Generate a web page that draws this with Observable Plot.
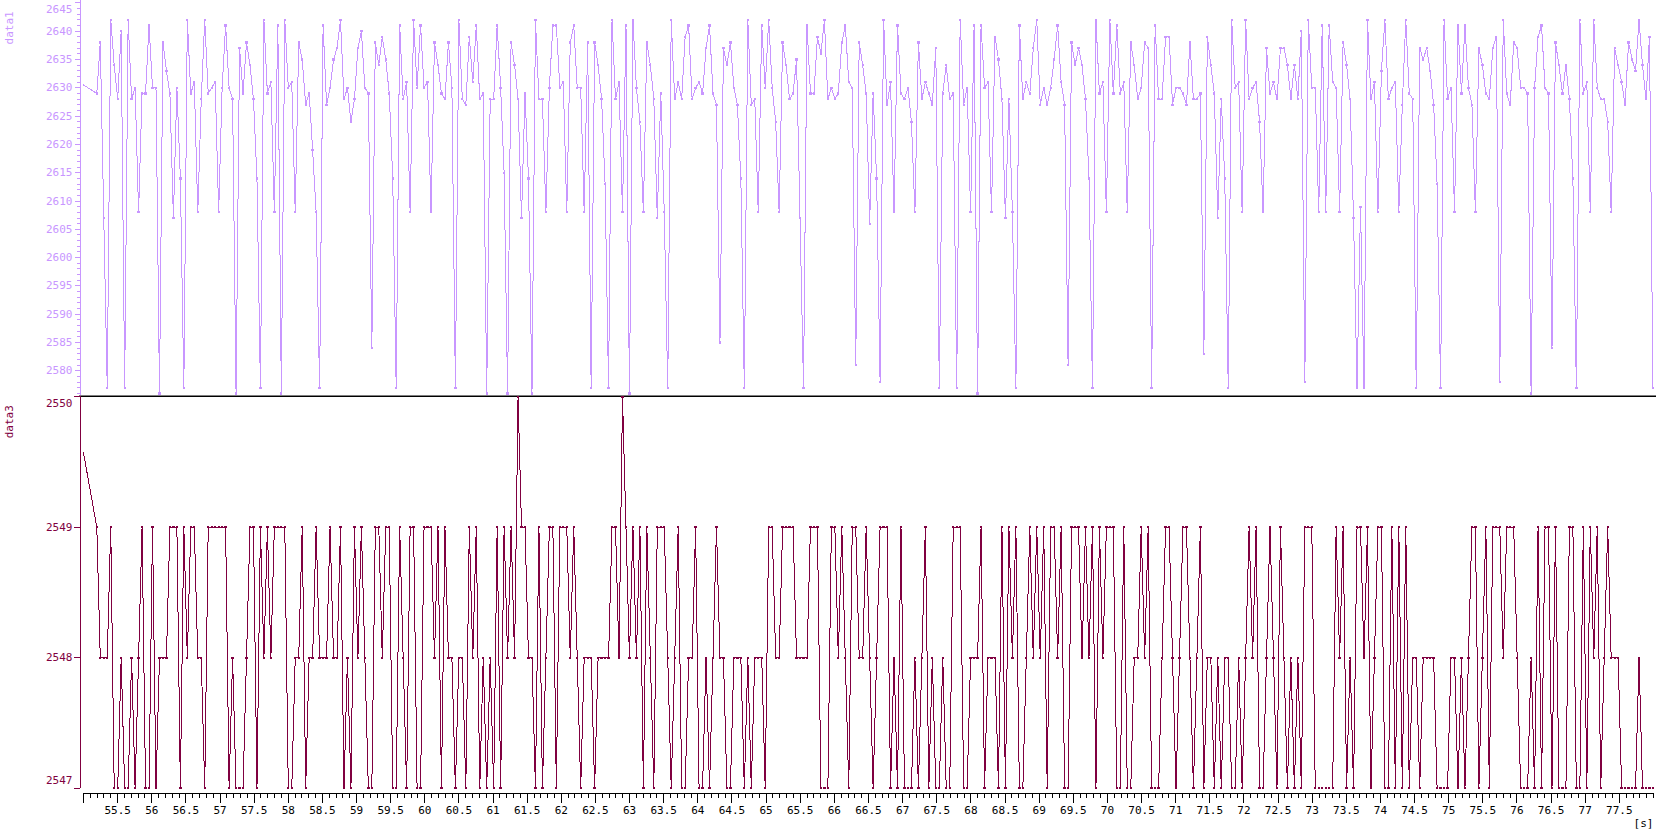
<!DOCTYPE html>
<html>
<head>
<meta charset="utf-8">
<script src="https://cdn.jsdelivr.net/npm/d3@7"></script>
<script src="https://cdn.jsdelivr.net/npm/@observablehq/plot@0.6"></script>
<style>
html, body { margin: 0; padding: 0; background: #ffffff; }
#chart { width: 1656px; height: 836px; position: relative; overflow: hidden; background: #ffffff; }
#chart svg { display: block; }
</style>
</head>
<body>
<div id="chart"></div>
<script>
// ---- data ----
const data1 = [
  2630.5,
  2629,2638,2607,2577,2642,2634,2628,2640,2577,2642,
  2628,2630,2608,2629,2629,2641,2630,2630,2576,2638,
  2633,2629,2607,2630,2614,2577,2642,2629,2631,2608,
  2628,2642,2629,2630,2631,2608,2630,2641,2630,2628,
  2576,2637,2629,2638,2634,2628,2614,2577,2642,2629,
  2631,2608,2641,2576,2642,2630,2631,2608,2638,2635,
  2627,2629,2619,2608,2577,2641,2627,2630,2635,2637,
  2642,2628,2630,2624,2628,2637,2640,2630,2629,2584,
  2638,2634,2639,2635,2629,2614,2577,2641,2628,2631,
  2608,2642,2630,2641,2630,2631,2608,2638,2634,2629,
  2628,2638,2630,2577,2642,2628,2627,2639,2631,2641,
  2628,2629,2576,2628,2628,2641,2630,2615,2576,2638,
  2634,2628,2607,2629,2614,2576,2642,2628,2628,2608,
  2630,2641,2641,2630,2631,2608,2638,2641,2630,2630,
  2608,2638,2577,2638,2634,2628,2613,2577,2642,2628,
  2631,2608,2641,2576,2642,2630,2624,2608,2638,2634,
  2628,2607,2629,2608,2577,2642,2628,2631,2628,2639,
  2641,2628,2630,2631,2629,2637,2641,2629,2627,2585,
  2637,2634,2638,2630,2627,2614,2577,2642,2627,2628,
  2608,2641,2630,2642,2630,2624,2608,2638,2634,2628,
  2629,2635,2607,2577,2641,2629,2629,2639,2636,2642,
  2628,2630,2628,2629,2638,2641,2631,2630,2581,2638,
  2634,2629,2606,2629,2614,
  2578,2642,2627,2631,2608,2641,2629,2628,2630,2624,
  2608,2638,2628,2631,2629,2627,2637,2577,2629,2634,
  2628,2629,2577,2642,2627,2630,2608,2641,2576,2641,
  2630,2631,2608,2639,2635,2628,2607,2628,2608,2577,
  2641,2628,2631,2629,2637,2642,2627,2630,2627,2630,
  2635,2641,2631,2627,2581,2638,2634,2637,2634,2628,
  2614,2577,2642,2629,2631,2608,2642,2629,2641,2629,
  2631,2608,2638,2634,2628,2630,2638,2637,2577,2641,
  2628,2628,2639,2639,2627,2630,2630,2629,2627,2638,
  2628,2628,2629,2583,2639,2634,2629,2607,2628,2614,
  2577,2642,2630,2631,2608,2642,2628,2630,2631,2624,
  2608,2637,2629,2631,
  2628,2637,2637,2634,2628,2634,2628,2640,2578,2642,
  2630,2630,2608,2641,2608,2641,2631,2630,2608,2638,
  2634,2628,2607,2577,2609,2577,2642,2628,2631,2608,
  2633,2642,2628,2630,2631,2608,2627,2642,2629,2628,
  2577,2637,2635,2637,2633,2627,2613,2577,2642,2628,
  2630,2608,2641,2629,2641,2630,2627,2608,2637,2634,
  2629,2628,2637,2639,2578,2642,2629,2627,2638,2637,
  2630,2630,2629,2576,2630,2639,2641,2630,2629,2584,
  2638,2634,2629,2634,2628,2614,2577,2642,2629,2631,
  2608,2642,2630,2628,2628,2624,2608,2637,2634,2631,
  2627,2638,2635,2633,2642,2634,2628,2639,2577
];
const data3 = [
  2549.57,
  2549,2548,2548,2548,2549,2547,2547,2548,2547,2547,
  2548,2547,2548,2549,2547,2547,2549,2547,2548,2548,
  2548,2549,2549,2549,2547,2549,2548,2549,2549,2548,
  2548,2547,2549,2549,2549,2549,2549,2549,2547,2548,
  2547,2547,2547,2548,2549,2549,2547,2549,2548,2549,
  2548,2549,2549,2549,2549,2547,2547,2548,2548,2549,
  2547,2548,2548,2549,2548,2548,2548,2549,2548,2548,
  2549,2547,2548,2547,2549,2548,2549,2548,2547,2547,
  2549,2549,2548,2549,2549,2547,2547,2549,2548,2547,
  2549,2549,2547,2547,2549,2549,2549,2548,2549,2547,
  2549,2548,2548,2547,2548,2548,2547,2549,2548,2549,
  2547,2548,2547,2548,2547,2549,2547,2549,2548,2549,
  2548,2550,2549,2549,2548,2548,2547,2549,2547,2548,
  2549,2549,2547,2549,2549,2549,2548,2549,2548,2547,
  2548,2548,2548,2547,2548,2548,2548,2548,2549,2549,
  2548,2550,2549,2548,2549,2548,2549,2547,2549,2548,
  2547,2549,2549,2549,2548,2547,2548,2549,2547,2547,
  2548,2548,2549,2547,2547,2548,2547,2548,2549,2548,
  2548,2547,2547,2548,2548,2548,2547,2548,2547,2548,
  2548,2548,2547,2549,2549,2548,2548,2549,2549,2549,
  2549,2548,2548,2548,2548,2549,2549,2549,2547,2547,
  2547,2549,2549,2548,2549,2548,2547,2549,2549,2548,
  2548,2549,2548,2547,2548,
  2549,2549,2549,2547,2548,2547,2549,2547,2547,2547,
  2548,2547,2548,2549,2547,2548,2547,2547,2548,2547,
  2547,2549,2549,2549,2547,2547,2548,2548,2548,2549,
  2547,2548,2548,2548,2547,2549,2547,2549,2548,2549,
  2547,2547,2548,2549,2548,2549,2548,2549,2547,2549,
  2549,2548,2549,2547,2547,2549,2549,2549,2548,2549,
  2548,2549,2547,2549,2548,2549,2549,2549,2547,2547,
  2549,2547,2547,2548,2548,2549,2548,2549,2547,2547,
  2547,2548,2549,2549,2548,2547,2548,2549,2549,2548,
  2547,2548,2549,2547,2548,2548,2547,2548,2547,2548,
  2548,2547,2547,2548,2547,2548,2549,2548,2549,2547,
  2547,2548,2549,2548,
  2547,2549,2548,2547,2548,2547,2548,2547,2549,2549,
  2549,2547,2547,2547,2547,2547,2547,2549,2548,2549,
  2547,2548,2547,2549,2549,2548,2549,2547,2548,2549,
  2549,2547,2547,2549,2547,2549,2547,2549,2547,2548,
  2548,2547,2548,2548,2548,2548,2547,2547,2547,2547,
  2548,2548,2547,2548,2547,2548,2549,2549,2547,2548,
  2549,2547,2549,2549,2549,2548,2549,2549,2549,2548,
  2547,2547,2547,2548,2547,2549,2547,2549,2549,2547,
  2549,2547,2547,2547,2549,2549,2547,2547,2549,2547,
  2549,2548,2549,2547,2548,2549,2548,2548,2548,2547,
  2547,2547,2547,2547,2548,2547,2547,2547,2547
];
// sampling: first sample at 55.0 s, then a regular ~0.051 s step from 55.195 s
const firstTime = 55.0;
const sampleStart = 55.195;
const sampleStep = 0.051;

const xDomain = [55, 78];
const xTickLabels = ["55.5","56","56.5","57","57.5","58","58.5","59","59.5","60",
  "60.5","61","61.5","62","62.5","63","63.5","64","64.5","65","65.5","66","66.5",
  "67","67.5","68","68.5","69","69.5","70","70.5","71","71.5","72","72.5","73",
  "73.5","74","74.5","75","75.5","76","76.5","77","77.5"];
const yTopDomain = [2575.65, 2645];
const yTopLabels = [2580,2585,2590,2595,2600,2605,2610,2615,2620,2625,2630,2635,2640,2645];
const yBottomDomain = [2547, 2550];
const yBottomLabels = [2547, 2548, 2549, 2550];
const seriesNames = ["data1", "data3"];

// ---- styling ----
const colTop = "#c896ff";
const colBot = "#800040";
const fontFamily = "'DejaVu Sans Mono', 'Liberation Mono', monospace";
const W = 1656;
const frameLeft = 80, xLeft = 83, xRight = 1653;
const pxPerSec = (xRight - xLeft) / (xDomain[1] - xDomain[0]);
const xAt = px => xDomain[0] + (px - xLeft) / pxPerSec;

const timeOf = i => i === 0 ? firstTime : sampleStart + (i - 1) * sampleStep;
const rows1 = data1.map((v, i) => ({t: timeOf(i), v}));
const rows3 = data3.map((v, i) => ({t: timeOf(i), v}));

const xMajor = [55, ...xTickLabels.map(Number)];
const xMinor = d3.range(550, 781).map(d => d / 10);
const yTopMinor = d3.range(2576, 2646);

// ---- top panel ----
const topH = 395;
const topPlot = Plot.plot({
  width: W, height: topH,
  marginLeft: frameLeft, marginRight: W - xRight, marginTop: 0, marginBottom: 0,
  x: {domain: xDomain, range: [xLeft, xRight], axis: null},
  y: {domain: yTopDomain, range: [topH, 2.35], axis: null},
  style: {background: "transparent", fontFamily, fontSize: "11px", overflow: "visible"},
  marks: [
    Plot.ruleX([xAt(frameLeft)], {x: d => d, stroke: colTop, strokeWidth: 1, shapeRendering: "crispEdges"}),
    Plot.ruleY(yTopMinor, {y: d => d, x1: xAt(frameLeft - 3), x2: xAt(frameLeft), stroke: colTop, shapeRendering: "crispEdges"}),
    Plot.ruleY(yTopLabels, {y: d => d, x1: xAt(frameLeft - 5), x2: xAt(frameLeft), stroke: colTop, shapeRendering: "crispEdges"}),
    Plot.text(yTopLabels.filter(d => d !== 2645), {y: d => d, text: d => String(d), frameAnchor: "left", dx: -8, textAnchor: "end", fill: colTop}),
    Plot.text(yTopLabels.filter(d => d === 2645), {y: d => d, text: d => String(d), frameAnchor: "left", dx: -8, dy: 7, textAnchor: "end", fill: colTop}),
    Plot.text([seriesNames[0]], {x: xDomain[0], y: yTopDomain[1], text: d => d, dx: -74, dy: 25, rotate: -90, fill: colTop}),
    Plot.line(rows1, {x: "t", y: "v", stroke: colTop, strokeWidth: 1, clip: true, shapeRendering: "crispEdges"}),
    Plot.dot(rows1.slice(1), {x: "t", y: "v", symbol: "square", r: 1.3, fill: colTop, stroke: null, shapeRendering: "crispEdges"})
  ]
});

// ---- bottom panel ----
const botH = 441;
const yTopPx = 1.2, yBotPx = 392.7;
const pxPerUnit = (yBotPx - yTopPx) / (yBottomDomain[1] - yBottomDomain[0]);
const yBelow = px => yBottomDomain[0] - px / pxPerUnit;
const botPlot = Plot.plot({
  width: W, height: botH,
  marginLeft: frameLeft, marginRight: W - xRight, marginTop: 0, marginBottom: botH - yBotPx,
  x: {domain: xDomain, range: [xLeft, xRight], axis: null},
  y: {domain: yBottomDomain, range: [yBotPx, yTopPx], axis: null},
  style: {background: "transparent", fontFamily, fontSize: "11px", overflow: "visible"},
  marks: [
    Plot.ruleY([yBottomDomain[1]], {y: d => d, x1: xAt(79), x2: xAt(W), dy: -0.4, stroke: "#000000", strokeWidth: 1.6}),
    Plot.ruleX([xAt(frameLeft)], {x: d => d, y1: yBottomDomain[0], y2: yBottomDomain[1], stroke: colBot, shapeRendering: "crispEdges"}),
    Plot.ruleY(yBottomLabels, {y: d => d, x1: xAt(frameLeft - 6), x2: xAt(frameLeft), stroke: colBot, shapeRendering: "crispEdges"}),
    Plot.text(yBottomLabels.filter(d => d === 2548 || d === 2549), {y: d => d, text: d => String(d), frameAnchor: "left", dx: -8, textAnchor: "end", fill: colBot}),
    Plot.text(yBottomLabels.filter(d => d === 2550), {y: d => d, text: d => String(d), frameAnchor: "left", dx: -8, dy: 6.8, textAnchor: "end", fill: colBot}),
    Plot.text(yBottomLabels.filter(d => d === 2547), {y: d => d, text: d => String(d), frameAnchor: "left", dx: -8, dy: -7.7, textAnchor: "end", fill: colBot}),
    Plot.text([seriesNames[1]], {x: xDomain[0], y: yBottomDomain[1], text: d => d, dx: -74, dy: 25, rotate: -90, fill: colBot}),
    Plot.line(rows3, {x: "t", y: "v", stroke: colBot, strokeWidth: 1, clip: true, shapeRendering: "crispEdges"}),
    Plot.dot(rows3.slice(1), {x: "t", y: "v", symbol: "square", r: 1.3, fill: colBot, stroke: null, shapeRendering: "crispEdges"}),
    // x axis
    Plot.ruleY([yBottomDomain[0]], {y: d => d, x1: xDomain[0], x2: xDomain[1], dy: 5.6, stroke: "#000000", shapeRendering: "crispEdges"}),
    Plot.ruleX(xMinor, {x: d => d, y1: yBelow(5.6), y2: yBelow(10.6), stroke: "#000000", shapeRendering: "crispEdges"}),
    Plot.ruleX(xMajor, {x: d => d, y1: yBelow(5.6), y2: yBelow(15.6), stroke: "#000000", shapeRendering: "crispEdges"}),
    Plot.text(xTickLabels, {x: d => Number(d), y: yBottomDomain[0], text: d => d, dy: 22.3, fill: "#000000"}),
    Plot.text(["[s]"], {x: xDomain[1], y: yBottomDomain[0], text: d => d, dx: -10, dy: 35.3, fill: "#000000"})
  ]
});

const chart = document.getElementById("chart");
chart.appendChild(topPlot);
chart.appendChild(botPlot);
</script>
</body>
</html>
